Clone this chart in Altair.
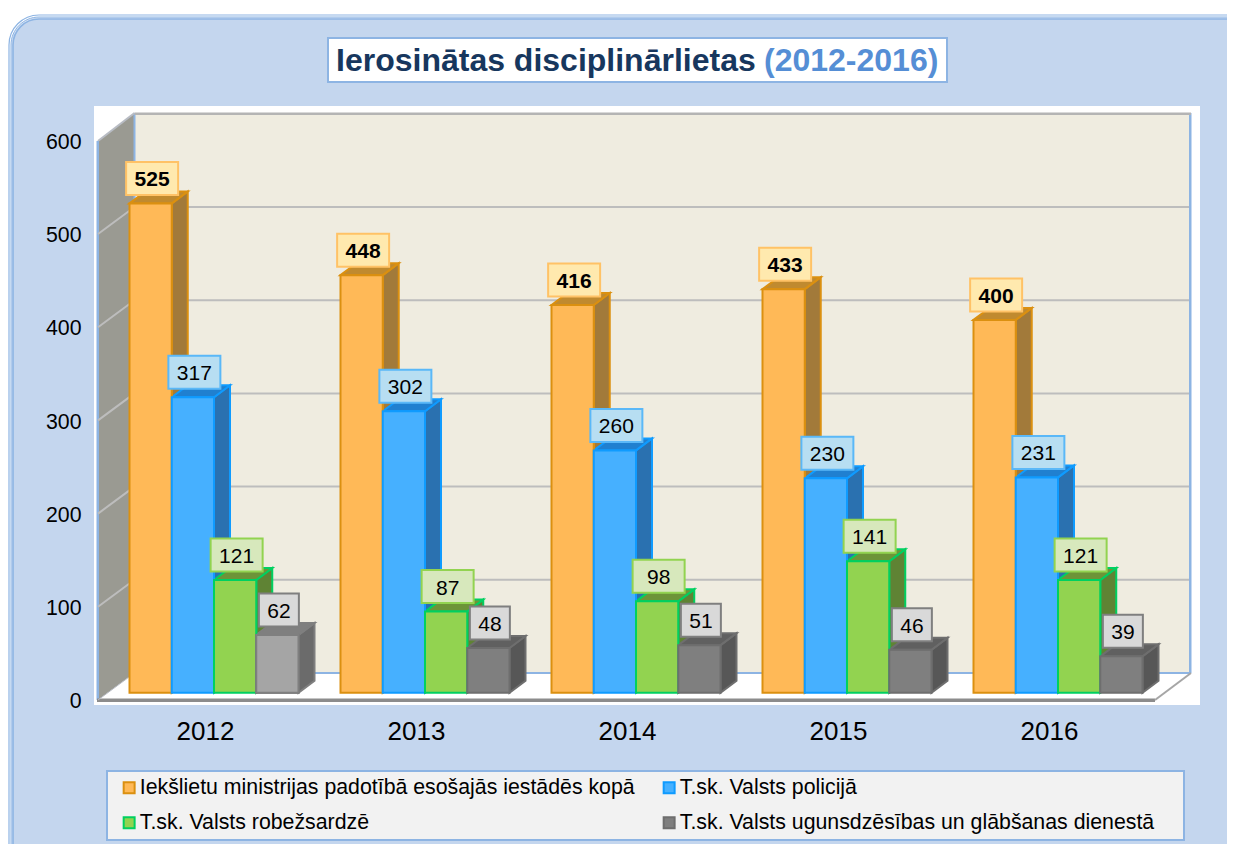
import altair as alt
import pandas as pd

years = [2012, 2013, 2014, 2015, 2016]
series = [
    "Iekšlietu ministrijas padotībā esošajās iestādēs kopā",
    "T.sk. Valsts policijā",
    "T.sk. Valsts robežsardzē",
    "T.sk. Valsts ugunsdzēsības un glābšanas dienestā",
]
total = [525, 448, 416, 433, 400]
police = [317, 302, 260, 230, 231]
border = [121, 87, 98, 141, 121]
fire = [62, 48, 51, 46, 39]
values = [total, police, border, fire]
ticks = [0, 100, 200, 300, 400, 500, 600]

front = ["#FFB957", "#46B0FF", "#92D350", "#7F7F7F"]
edge = ["#DB9010", "#0F9BFF", "#00D060", "#6E6E6E"]
side = ["#A27A3A", "#2A71B0", "#5F8334", "#575757"]
top = ["#C08A2F", "#2080D0", "#6D9438", "#606060"]
box_fill = ["#FFE9AE", "#B7DEF2", "#D7E8BC", "#D9D9D9"]
box_edge = ["#FFC266", "#5AB8F8", "#92D350", "#7F7F7F"]
legend_order = [0, 2, 1, 3]

W, H = 1219, 836
FONT = "Liberation Sans"
BLUE = "#8DB4E3"


def X(px):
    return 2012 + (px - 205) / 211


def Y(py):
    return (692.7 - py) / 0.932


xs = alt.Scale(domain=[X(8), X(8 + W)], nice=False, zero=False)
ys = alt.Scale(domain=[Y(8 + H), Y(8)], nice=False, zero=False)

AX_X = alt.Axis(values=years, format="d", domain=False, ticks=False, grid=False, labelFont=FONT,
                labelFontSize=26, labelColor="#000000", labelPadding=0, offset=-126, zindex=2,
                labelFlush=False)
AX_Y = alt.Axis(values=ticks, domain=False, ticks=False, grid=False, labelFont=FONT,
                labelFontSize=21.3, labelColor="#000000", labelPadding=0, offset=-73, zindex=2,
                labelOffset=9, labelFlush=False, format="d")


def enc_x(f="x"):
    return alt.X(f"{f}:Q", scale=xs, axis=AX_X, title=None)


def enc_y(f="y"):
    return alt.Y(f"{f}:Q", scale=ys, axis=AX_Y, title=None)


def box(x0, y0, x1, y1, **kw):
    d = pd.DataFrame({"x": [X(x0)], "x2": [X(x1)], "y": [Y(y0)], "y2": [Y(y1)]})
    return alt.Chart(d).mark_rect(**kw).encode(
        x=enc_x(), x2="x2:Q", y=enc_y(), y2="y2:Q"
    )


def poly(points, **kw):
    # points: (px, top py, bottom py)
    d = pd.DataFrame(
        {"x": [X(p[0]) for p in points], "y": [Y(p[1]) for p in points], "y2": [Y(p[2]) for p in points]}
    )
    return alt.Chart(d).mark_area(**kw).encode(x=enc_x(), y=enc_y(), y2="y2:Q")


layers = []
# panel
layers.append(box(9, 15, 1260, 880, cornerRadius=30, fill="#FFFFFF", stroke=BLUE, strokeWidth=1.2))
layers.append(box(11, 17, 1258, 878, cornerRadius=28, fill="#D5E2F4", stroke=BLUE, strokeWidth=1))
layers.append(box(13, 19, 1256, 876, cornerRadius=26, fill="#C4D6EE", stroke=BLUE, strokeWidth=1.6))
# title box
layers.append(box(328, 38, 947, 82, fill="#FFFFFF", stroke=BLUE, strokeWidth=2))
# legend box
layers.append(box(107, 771, 1184, 840, fill="#F2F2F2", stroke=BLUE, strokeWidth=2))
# plot background
layers.append(box(94, 106, 1200, 705, fill="#FFFFFF"))
# walls
layers.append(box(134.5, 114, 1190.5, 673, fill="#EFECE0"))
layers.append(poly([(98, 141, 700), (134.5, 113, 673)], fill="#9A9A92"))
layers.append(poly([(98, 700, 700), (134.5, 673, 700), (1155, 673, 700), (1191, 673, 673)], fill="#FFFFFF"))


def line(points, color, width):
    d = pd.DataFrame({"x": [X(p[0]) for p in points], "y": [Y(p[1]) for p in points], "o": range(len(points))})
    return alt.Chart(d).mark_line(color=color, strokeWidth=width).encode(x=enc_x(), y=enc_y(), order="o:Q")


# wall edges
layers.append(box(134.5, 673 - 1, 1191, 673 + 1, fill=BLUE))
layers.append(box(133.5, 113, 135.5, 673, fill=BLUE))
layers.append(box(1189, 113, 1191.5, 673, fill=BLUE))
layers.append(box(134.5, 112.5, 1191, 115, fill="#B4B4B4"))
layers.append(line([(98, 141), (134.5, 113)], "#B8BCC4", 2))
layers.append(box(96.5, 141, 99, 700, fill=BLUE))
layers.append(box(97, 698.5, 1155, 702, fill="#8C8C8C"))
layers.append(line([(1155, 700), (1191, 673)], "#A6A6A6", 2))
layers.append(line([(98, 700), (134.5, 673)], "#B8BCC4", 1))
# gridlines
for v in ticks[1:-1]:
    yb = 673 - v * 0.932
    layers.append(line([(98, yb + 27), (134.5, yb)], "#BDBDBD", 2))
    layers.append(box(134.5, yb - 1, 1189, yb + 1, fill="#BDBDBD"))

# bars
BW = 42.25
DX, DY = 16, 12
rows = []
for j, name in enumerate(series):
    for i, yr in enumerate(years):
        v = values[j][i]
        xl = 129.5 + 211 * i + BW * j
        xr = xl + BW
        rows.append(dict(series=name, j=j, year=yr, v=v, xl=X(xl), xr=X(xr), xm=X((xl + xr) / 2 + 1.5),
                         px=xl, top=692.7 - v * 0.932))
df = pd.DataFrame(rows)
first_grey = (df.j == 3) & (df.year == 2012)


def depth_layers(sub, side_c, top_c, stroke_c):
    s, t = [], []
    for _, r in sub.iterrows():
        xl, xr, tp, b = r.px, r.px + BW, r["top"], 692.7
        key = int(r.year)
        s += [dict(k=key, x=X(xr), y=Y(tp), y2=Y(b)), dict(k=key, x=X(xr + DX), y=Y(tp - DY), y2=Y(b - DY))]
        t += [
            dict(k=key, x=X(xl), y=Y(tp), y2=Y(tp)),
            dict(k=key, x=X(xl + DX), y=Y(tp - DY), y2=Y(tp)),
            dict(k=key, x=X(xr), y=Y(tp - DY), y2=Y(tp)),
            dict(k=key, x=X(xr + DX), y=Y(tp - DY), y2=Y(tp - DY)),
        ]
    out = []
    for data, c in ((s, side_c), (t, top_c)):
        out.append(
            alt.Chart(pd.DataFrame(data))
            .mark_area(fill=c, stroke=stroke_c, strokeWidth=2)
            .encode(x=enc_x(), y=enc_y(), y2="y2:Q", detail="k:N")
        )
    return out


for j in range(4):
    sub = df[(df.j == j) & ~first_grey]
    layers += depth_layers(sub, side[j], top[j], edge[j])
layers += depth_layers(df[first_grey], "#6B6B6B", "#7F7F7F", "#7F7F7F")

df["base"] = 0.0
dom = [series[k] for k in legend_order]
layers.append(
    alt.Chart(df)
    .mark_rect(strokeWidth=2)
    .encode(
        x=enc_x("xl"),
        x2="xr:Q",
        y=enc_y("v"),
        y2="base:Q",
        fill=alt.Fill(
            "series:N",
            scale=alt.Scale(domain=dom, range=[front[k] for k in legend_order]),
            title=None,
            legend=alt.Legend(
                orient="none", legendX=110.5, legendY=769, columns=2, title=None,
                symbolType="square", symbolSize=120, symbolStrokeWidth=2,
                labelFont=FONT, labelFontSize=21.3, labelColor="#000000", labelLimit=700,
                labelOffset=0, rowPadding=13, columnPadding=23, padding=0,
                symbolOpacity=1,
            ),
        ),
        stroke=alt.Stroke("series:N", scale=alt.Scale(domain=dom, range=[edge[k] for k in legend_order]), title=None),
    )
)
layers.append(
    alt.Chart(df[first_grey])
    .mark_rect(fill="#A5A5A5", stroke="#7F7F7F", strokeWidth=2)
    .encode(x=enc_x("xl"), x2="xr:Q", y=enc_y("v"), y2="base:Q")
)

# value labels
lab = df.copy()
lab["hw"] = lab.j.map(lambda j: 20 if j == 3 else 26)
lab["cx"] = lab.px + BW / 2 + 1.5
lab["bx0"] = X(lab.cx - lab.hw)
lab["bx1"] = X(lab.cx + lab.hw)
lab["by0"] = Y(lab["top"] - 25 - 16.5)
lab["by1"] = Y(lab["top"] - 25 + 16.5)
lab["ty"] = Y(lab["top"] - 25)
for j in range(4):
    sub = lab[lab.j == j]
    layers.append(
        alt.Chart(sub)
        .mark_rect(fill=box_fill[j], stroke=box_edge[j], strokeWidth=2)
        .encode(x=enc_x("bx0"), x2="bx1:Q", y=enc_y("by0"), y2="by1:Q")
    )
    layers.append(
        alt.Chart(sub)
        .mark_text(font=FONT, fontSize=21, color="#000000", fontWeight="bold" if j == 0 else "normal", baseline="middle", dy=2)
        .encode(x=enc_x("xm"), y=enc_y("ty"), text="v:Q")
    )


def text(px, py, s, **kw):
    d = pd.DataFrame({"x": [X(px)], "y": [Y(py)], "t": [s]})
    return alt.Chart(d).mark_text(font=FONT, baseline="middle", align="left", **kw).encode(x=enc_x(), y=enc_y(), text="t:N")


layers.append(text(336, 61, "Ierosinātas disciplinārlietas", fontSize=32, fontWeight="bold", color="#17375E"))
layers.append(text(764, 61, "(2012-2016)", fontSize=32, fontWeight="bold", color="#558ED5"))

chart = (
    alt.layer(*layers)
    .resolve_scale(fill="independent", stroke="independent")
    .properties(width=W, height=H, padding=0, background="#FFFFFF", autosize=alt.AutoSizeParams(type="none"))
    .configure_view(stroke=None)
)
chart.save("out.html", embed_options={"renderer": "svg", "actions": False})
